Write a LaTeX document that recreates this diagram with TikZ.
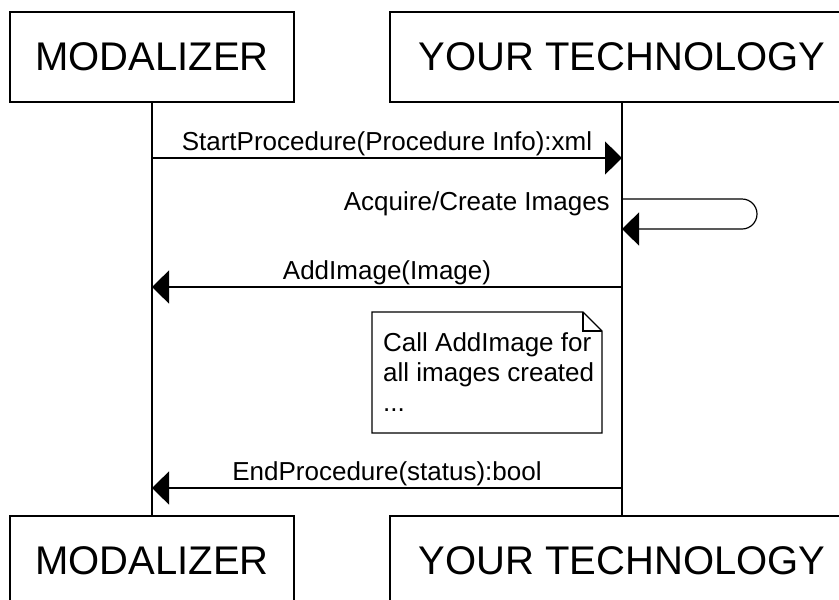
\documentclass[tikz,border=0pt]{standalone}
\usepackage{fontspec}
\setmainfont{Liberation Sans}
\usetikzlibrary{arrows.meta}
\begin{document}
\begin{tikzpicture}[x=1pt, y=-1pt,
    actor/.style={draw, line width=1.2pt, fill=white, minimum height=90pt, inner sep=0pt,
                  font=\fontsize{40}{44}\selectfont},
    msg/.style={line width=1.2pt, -{Triangle[length=17pt, width=33pt]}},
    lbl/.style={font=\fontsize{26}{30}\selectfont, inner sep=2pt}]
  \useasboundingbox (0,0) rectangle (839,600);
  \clip (0,0) rectangle (839,600);
  % lifelines
  \draw[line width=1.2pt] (152,102) -- (152,516);
  \draw[line width=1.2pt] (622,102) -- (622,516);
  % actors
  \node[actor, minimum width=284pt] (modTop) at (152,57) {MODALIZER};
  \node[actor, minimum width=464pt] (techTop) at (622,57) {YOUR TECHNOLOGY};
  \node[actor, minimum width=284pt] (modBot) at (152,561) {MODALIZER};
  \node[actor, minimum width=464pt] (techBot) at (622,561) {YOUR TECHNOLOGY};
  % messages
  \coordinate (m1a) at (152,158);
  \coordinate (m1b) at (622,158);
  \draw[msg] (m1a) -- node[lbl, above] (lStart) {StartProcedure(Procedure Info):xml} (m1b);
  \coordinate (s1a) at (622,199);
  \coordinate (s1b) at (622,229);
  \draw[msg, rounded corners=15pt] (s1a) -- (757,199) -- (757,229) -- (s1b);
  \node[lbl, anchor=base east] (lAcq) at (612,210) {Acquire/Create Images};
  \coordinate (m2a) at (622,287);
  \coordinate (m2b) at (152,287);
  \draw[msg] (m2a) -- node[lbl, above] (lAdd) {AddImage(Image)} (m2b);
  % note
  \draw[line width=1.2pt, fill=white] (372,312) -- (583,312) -- (602,331) -- (602,433) -- (372,433) -- cycle;
  \draw[line width=1.2pt] (583,312) -- (583,331) -- (602,331);
  \node[lbl, anchor=north west, align=left, inner sep=0pt] (note) at (383,332)
    {Call AddImage for\\all images created\\...};
  \coordinate (m3a) at (622,488);
  \coordinate (m3b) at (152,488);
  \draw[msg] (m3a) -- node[lbl, above] (lEnd) {EndProcedure(status):bool} (m3b);
\end{tikzpicture}
\end{document}
